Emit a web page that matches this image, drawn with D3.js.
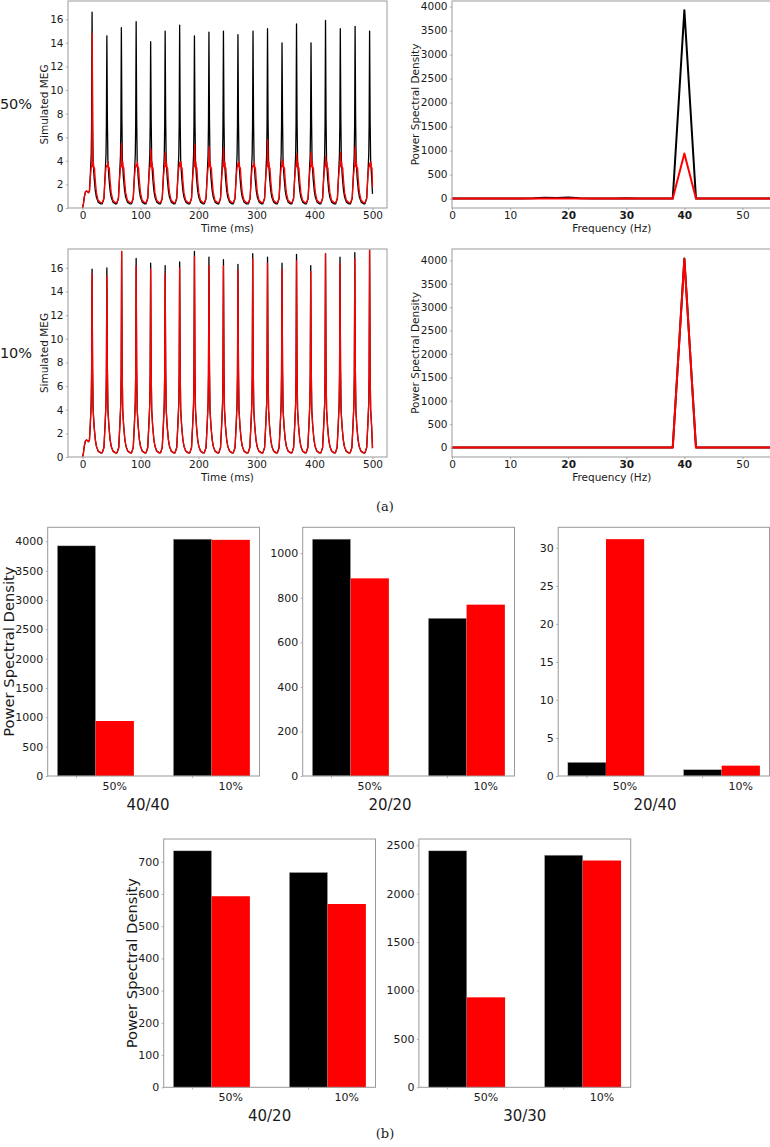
<!DOCTYPE html>
<html><head><meta charset="utf-8">
<script src="https://cdn.jsdelivr.net/npm/d3@7"></script>
<style>body{margin:0;background:#fff}svg{display:block}</style>
</head><body>
<svg id="chart" width="770" height="1147"></svg>
<script>
// ---------------- DATA ----------------
// simulated MEG traces: start-up segment (ms, value)
const initT = [0, 1.5, 3, 5, 7, 9, 10.5, 12];
const initV = [0, 0.3, 0.9, 1.35, 1.45, 1.35, 1.3, 1.45];
// spike times (ms) and heights, 50% condition
const peakT50 = [16.5,42,67,92.5,117.5,142.5,167.5,193,218,243,268,294,319,344,369,394,419,444.5,470,495];
const black50 = [16.6,14.6,15.3,15.8,14.1,15.0,15.5,14.6,14.9,15.0,14.7,15.0,15.2,14.0,15.6,14.0,15.9,15.2,15.4,15.0];
const red50   = [14.8,3.6,5.5,3.7,5.0,4.7,3.9,5.4,5.2,5.1,3.8,3.6,5.8,4.1,4.6,4.7,4.4,4.7,5.2,3.8];
// spike times (ms) and heights, 10% condition
const peakT10 = [16.5,42,67.5,92.5,117.5,142.5,167.5,193,218,243,268,293.5,319,344,369,393.5,419,444,469.5,495];
const black10 = [15.9,16.0,17.4,16.8,16.4,16.2,16.5,17.4,16.9,16.7,16.3,17.2,16.9,16.4,17.15,16.2,17.2,16.9,17.3,17.5];
const red10   = [15.5,15.3,17.4,16.2,15.9,15.5,16.0,17.0,16.2,16.2,15.8,16.8,16.4,15.9,16.6,15.7,17.2,16.4,16.8,17.5];
// value of each trace at t = 500 ms
const endBlack50 = 1.2, endRed50 = 1.8, endBlack10 = 0.75, endRed10 = 0.75;
// waveform around each spike (ms offset, value; null = that spike's height)
const spikeDt = [-8,-5,-3,-1.5,-0.8,0,0.9,1.8,3.5,5.5,7.5,10.5,15];
const spikeV  = [0.35,0.8,2.8,4.5,7,null,7.5,4.0,2.6,1.5,0.9,0.5,0.35];
const plateauDt = [-8,-5,-3,-1.5,-0.5,0.4,1.2,2.2,3.2,4.2,5.5,7.5,10.5,15];
const plateauV  = [0.45,0.85,2.6,3.4,3.6,null,3.5,3.9,3.3,3.4,2.4,1.3,0.65,0.45];

// power spectral density (Hz)
const freqs    = [0,2,4,6,8,10,12,14,16,18,20,22,24,26,28,30,32,34,36,38,40,42,44,46,48,50,52,54,56];
const psdBlack50 = [0,0,0,0,0,0,0,6,20,10,22,8,2,2,3,8,3,1,0,0,3925,0,2,1,0,0,0,0,0];
const psdRed50   = [0,0,0,0,0,0,0,1,2,1,2,1,0,0,0,1,0,0,0,0,938,0,0,0,0,0,0,0,0];
const psdBlack10 = [0,0,0,0,0,0,0,0,0,0,0,0,0,0,0,0,0,0,0,0,4039,0,0,0,0,0,0,0,0];
const psdRed10   = [0,0,0,0,0,0,0,0,0,0,0,0,0,0,0,0,0,0,0,0,4027,0,0,0,0,0,0,0,0];
const timeTicks = [0,100,200,300,400,500];
const megTicks  = [0,2,4,6,8,10,12,14,16];
const freqTicks = [0,10,20,30,40,50];
const boldFreqTicks = [20,30,40];
const psdTicks  = [0,500,1000,1500,2000,2500,3000,3500,4000];

// bar charts
const groups = ['50%','10%'];
const black4040 = [3925, 4039], red4040 = [938, 4027];
const black2020 = [1063, 708],  red2020 = [887, 769];
const black2040 = [1.8, 0.83],  red2040 = [31.15, 1.36];
const black4020 = [734, 667],   red4020 = [593, 569];
const black3030 = [2442, 2397], red3030 = [929, 2342];
const ticks4040 = [0,500,1000,1500,2000,2500,3000,3500,4000];
const ticks2020 = [0,200,400,600,800,1000];
const ticks2040 = [0,5,10,15,20,25,30];
const ticks4020 = [0,100,200,300,400,500,600,700];
const ticks3030 = [0,500,1000,1500,2000,2500];

// ---------------- DRAWING ----------------
const FONT = "DejaVu Sans";
const FRAME = "#999";
const TXT = "#1a1a1a";
const svg = d3.select('#chart');
let clipId = 0;

function buildTrace(peakT, peakV, dts, vals, endV) {
  const pts = initT.map((t, i) => [t, initV[i]]);
  peakT.forEach((tp, k) => {
    dts.forEach((d, j) => {
      if (k === 0 && d < -3) return;
      const t = tp + d;
      if (t >= 500) return;
      pts.push([t, vals[j] === null ? peakV[k] : vals[j]]);
    });
  });
  pts.push([500, endV]);
  return pts;
}

function styleAxis(sel, fs) {
  sel.select('.domain').remove();
  sel.selectAll('.tick line').attr('stroke', FRAME).attr('stroke-width', 0.8);
  sel.selectAll('.tick text').attr('fill', TXT).attr('font-family', FONT).attr('font-size', fs);
}

function clipRect(l, t, r, b) {
  const id = 'clip' + (clipId++);
  svg.append('clipPath').attr('id', id).append('rect')
    .attr('x', l).attr('y', t).attr('width', r - l).attr('height', b - t);
  return `url(#${id})`;
}

function linePanel(cfg) {
  const x = d3.scaleLinear().domain(cfg.xDom).range([cfg.left, cfg.right]);
  const y = d3.scaleLinear().domain(cfg.yDom).range([cfg.bottom, cfg.top]);
  const g = svg.append('g');
  const clip = clipRect(cfg.left, cfg.top, cfg.right, cfg.bottom);
  const line = d3.line().x(d => x(d[0])).y(d => y(d[1]));
  const lg = g.append('g').attr('clip-path', clip);
  cfg.series.forEach(s => {
    lg.append('path').datum(s.pts).attr('d', line).attr('fill', 'none')
      .attr('stroke', s.color).attr('stroke-width', cfg.lw)
      .attr('stroke-linejoin', 'round');
  });
  g.append('rect').attr('x', cfg.left).attr('y', cfg.top)
    .attr('width', cfg.right - cfg.left).attr('height', cfg.bottom - cfg.top)
    .attr('fill', 'none').attr('stroke', FRAME).attr('stroke-width', 1);
  const xa = g.append('g').attr('transform', `translate(0,${cfg.bottom})`)
    .call(d3.axisBottom(x).tickValues(cfg.xTicks).tickSize(2).tickPadding(1.5).tickFormat(d3.format('d')));
  styleAxis(xa, 10.5);
  if (cfg.bold) xa.selectAll('.tick text').attr('font-weight', d => cfg.bold.includes(d) ? 'bold' : 'normal');
  const ya = g.append('g').attr('transform', `translate(${cfg.left},0)`)
    .call(d3.axisLeft(y).tickValues(cfg.yTicks).tickSize(2).tickPadding(2.5).tickFormat(d3.format('d')));
  styleAxis(ya, 10.5);
  g.append('text').attr('x', (cfg.left + Math.min(cfg.right, 771.5)) / 2).attr('y', cfg.bottom + 20)
    .attr('text-anchor', 'middle').attr('dominant-baseline', 'central')
    .attr('font-family', FONT).attr('font-size', 10.5).attr('fill', TXT).text(cfg.xLabel);
  g.append('text').attr('transform', `translate(${cfg.yLabelX},${(cfg.top + cfg.bottom) / 2}) rotate(-90)`)
    .attr('text-anchor', 'middle').attr('dominant-baseline', 'central')
    .attr('font-family', FONT).attr('font-size', 10.5).attr('fill', TXT).text(cfg.yLabel);
}

function barPanel(cfg) {
  const barW = 0.33;
  const x = d3.scaleLinear().domain([-0.248, 1.578]).range([cfg.left, cfg.right]);
  const ymax = d3.max(cfg.black.concat(cfg.red)) * 1.05;
  const y = d3.scaleLinear().domain([0, ymax]).range([cfg.bottom, cfg.top]);
  const g = svg.append('g');
  const data = groups.map((gname, i) => ({ i, b: cfg.black[i], r: cfg.red[i] }));
  g.selectAll('rect.b').data(data).join('rect').attr('class', 'b')
    .attr('x', d => x(d.i - barW / 2)).attr('width', d => x(d.i + barW / 2) - x(d.i - barW / 2))
    .attr('y', d => y(d.b)).attr('height', d => y(0) - y(d.b))
    .attr('fill', '#000').attr('stroke', '#bbb').attr('stroke-width', 0.5);
  g.selectAll('rect.r').data(data).join('rect').attr('class', 'r')
    .attr('x', d => x(d.i + barW / 2)).attr('width', d => x(d.i + 1.5 * barW) - x(d.i + barW / 2))
    .attr('y', d => y(d.r)).attr('height', d => y(0) - y(d.r))
    .attr('fill', '#ff0000');
  g.append('rect').attr('x', cfg.left).attr('y', cfg.top)
    .attr('width', cfg.right - cfg.left).attr('height', cfg.bottom - cfg.top)
    .attr('fill', 'none').attr('stroke', FRAME).attr('stroke-width', 1);
  const ya = g.append('g').attr('transform', `translate(${cfg.left},0)`)
    .call(d3.axisLeft(y).tickValues(cfg.yTicks).tickSize(2).tickPadding(2.5).tickFormat(d3.format('d')));
  styleAxis(ya, 11);
  // tick marks at the group positions, labels centred under the red bars
  g.selectAll('line.xt').data(data).join('line').attr('class', 'xt')
    .attr('x1', d => x(d.i)).attr('x2', d => x(d.i)).attr('y1', cfg.bottom).attr('y2', cfg.bottom + 2)
    .attr('stroke', FRAME).attr('stroke-width', 0.8);
  g.selectAll('text.xl').data(data).join('text').attr('class', 'xl')
    .attr('x', d => x(d.i + barW)).attr('y', cfg.bottom + 10)
    .attr('text-anchor', 'middle').attr('dominant-baseline', 'central')
    .attr('font-family', FONT).attr('font-size', 11).attr('fill', TXT).text(d => groups[d.i]);
  g.append('text').attr('x', cfg.titleX !== undefined ? cfg.titleX : (cfg.left + cfg.right) / 2).attr('y', cfg.bottom + 29)
    .attr('text-anchor', 'middle').attr('dominant-baseline', 'central')
    .attr('font-family', FONT).attr('font-size', 15).attr('fill', TXT).text(cfg.title);
  if (cfg.yLabelX !== undefined) {
    g.append('text').attr('transform', `translate(${cfg.yLabelX},${(cfg.top + cfg.bottom) / 2}) rotate(-90)`)
      .attr('text-anchor', 'middle').attr('dominant-baseline', 'central')
      .attr('font-family', FONT).attr('font-size', 14.7).attr('fill', TXT).text('Power Spectral Density');
  }
}

// ---- (a) traces and spectra ----
const psd = arr => freqs.map((f, i) => [f, arr[i]]);
linePanel({ left: 68, right: 387, top: 1, bottom: 208, xDom: [-25, 525], yDom: [0, 17.55],
  xTicks: timeTicks, yTicks: megTicks, lw: 1.3, xLabel: 'Time (ms)', yLabel: 'Simulated MEG', yLabelX: 44,
  series: [
    { color: '#000', pts: buildTrace(peakT50, black50, spikeDt, spikeV, endBlack50) },
    { color: '#ff0000', pts: buildTrace(peakT50, red50, plateauDt, plateauV, endRed50) }
  ] });
linePanel({ left: 452, right: 771.5, top: 1, bottom: 208, xDom: [0, 55], yDom: [-196, 4116],
  xTicks: freqTicks, yTicks: psdTicks, bold: boldFreqTicks, lw: 2, xLabel: 'Frequency (Hz)',
  yLabel: 'Power Spectral Density', yLabelX: 415,
  series: [ { color: '#000', pts: psd(psdBlack50) }, { color: '#ff0000', pts: psd(psdRed50) } ] });
linePanel({ left: 68, right: 387, top: 249, bottom: 457, xDom: [-25, 525], yDom: [0, 17.6],
  xTicks: timeTicks, yTicks: megTicks, lw: 1.3, xLabel: 'Time (ms)', yLabel: 'Simulated MEG', yLabelX: 44,
  series: [
    { color: '#000', pts: buildTrace(peakT10, black10, spikeDt, spikeV, endBlack10) },
    { color: '#ff0000', pts: buildTrace(peakT10, red10, spikeDt, spikeV, endRed10) }
  ] });
linePanel({ left: 452, right: 771.5, top: 249, bottom: 457, xDom: [0, 55], yDom: [-202, 4242],
  xTicks: freqTicks, yTicks: psdTicks, bold: boldFreqTicks, lw: 2, xLabel: 'Frequency (Hz)',
  yLabel: 'Power Spectral Density', yLabelX: 415,
  series: [ { color: '#000', pts: psd(psdBlack10) }, { color: '#ff0000', pts: psd(psdRed10) } ] });

svg.append('text').attr('x', 16).attr('y', 104).attr('text-anchor', 'middle').attr('dominant-baseline', 'central')
  .attr('font-family', FONT).attr('font-size', 14.5).attr('fill', TXT).text('50%');
svg.append('text').attr('x', 16).attr('y', 353).attr('text-anchor', 'middle').attr('dominant-baseline', 'central')
  .attr('font-family', FONT).attr('font-size', 14.5).attr('fill', TXT).text('10%');
svg.append('text').attr('x', 385).attr('y', 506).attr('text-anchor', 'middle').attr('dominant-baseline', 'central')
  .attr('font-family', 'DejaVu Serif').attr('font-size', 13).attr('fill', TXT).text('(a)');

// ---- (b) bar charts ----
barPanel({ left: 47.7, right: 259.5, top: 527.3, bottom: 776, black: black4040, red: red4040, yTicks: ticks4040, title: '40/40', titleX: 148, yLabelX: 8.5 });
barPanel({ left: 302.7, right: 514.5, top: 527.3, bottom: 776, black: black2020, red: red2020, yTicks: ticks2020, title: '20/20', titleX: 390 });
barPanel({ left: 558.2, right: 769.5, top: 527.3, bottom: 776, black: black2040, red: red2040, yTicks: ticks2040, title: '20/40', titleX: 655 });
barPanel({ left: 163.7, right: 375.5, top: 839, bottom: 1087.3, black: black4020, red: red4020, yTicks: ticks4020, title: '40/20', yLabelX: 131 });
barPanel({ left: 418.9, right: 630.7, top: 839, bottom: 1087.3, black: black3030, red: red3030, yTicks: ticks3030, title: '30/30' });
svg.append('text').attr('x', 385).attr('y', 1133).attr('text-anchor', 'middle').attr('dominant-baseline', 'central')
  .attr('font-family', 'DejaVu Serif').attr('font-size', 13).attr('fill', TXT).text('(b)');
</script>
</body></html>
